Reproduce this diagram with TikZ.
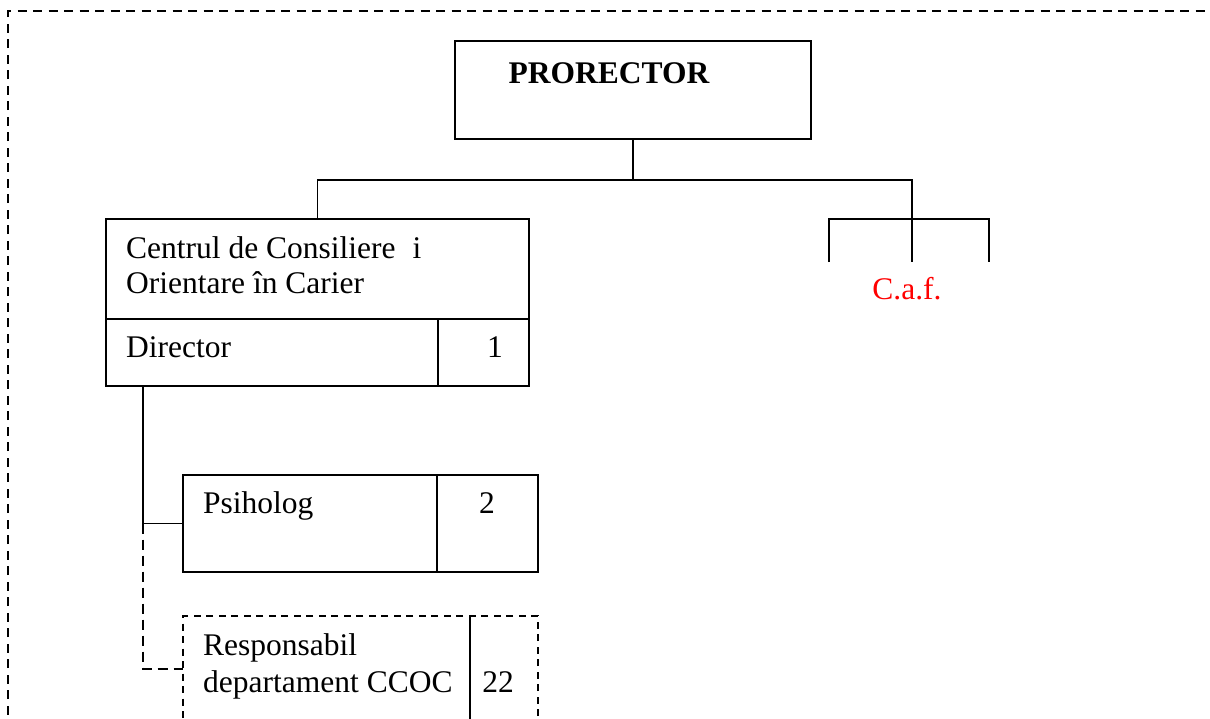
\documentclass[tikz,border=0pt]{standalone}
\usepackage{fontspec}
\setmainfont{Liberation Serif}
\usetikzlibrary{positioning}

\begin{document}
\begin{tikzpicture}[x=1pt,y=-1pt,
		box/.style={draw,line width=1.6pt,rectangle,inner sep=0pt,outer sep=0pt,anchor=north west},
		conn/.style={line width=1.6pt},
		txt/.style={inner sep=0pt,anchor=base west,font=\fontsize{31.5}{36}\selectfont},
		num/.style={inner sep=0pt,anchor=base,font=\fontsize{31.5}{36}\selectfont}]
		\useasboundingbox (0,0) rectangle (1210,718);
		\clip (0,0) rectangle (1210,718);
		\draw[line width=1.6pt,dash pattern=on 9pt off 6.5pt] (8,730) -- (8,11) -- (1220,11);

		\node[box,minimum width=356pt,minimum height=98pt] (prorector) at (455,41) {};
		\node[num,font=\fontsize{31.5}{36}\selectfont\bfseries] (prorectortxt) at (609,83) {PRORECTOR};

		\node[box,minimum width=423pt,minimum height=167pt] (centrul) at (106,219) {};
		\draw[conn] (106,319) -- (529,319);
		\draw[conn] (438,319) -- (438,386);
		\node[txt] (centrul1) at (126,258) {Centrul de Consiliere\hspace{17pt}i};
		\node[txt] (centrul2) at (126,293) {Orientare în Carier};
		\node[txt] (director) at (126,357) {Director};
		\node[num] (directornr) at (495,357) {1};

		\node[box,minimum width=355pt,minimum height=97pt] (psiholog) at (183,475) {};
		\draw[conn] (437,475) -- (437,572);
		\node[txt] (psihologtxt) at (203,513) {Psiholog};
		\node[num] (psihologn) at (487,513) {2};

		\node[box,dash pattern=on 7pt off 5.5pt,minimum width=355pt,minimum height=120pt] (resp) at (183,616) {};
		\draw[conn] (470,616) -- (470,730);
		\node[txt] (resp1) at (203,655) {Responsabil};
		\node[txt] (resp2) at (203,692) {departament CCOC};
		\node[num] (respn) at (498,692) {22};

		\coordinate (split) at (prorector.south |- 0,180);
		\coordinate (cafmid) at (912,262);
		\coordinate (cafleft) at (829,262);
		\coordinate (cafright) at (989,262);
		\draw[conn] (prorector.south) -- (split);
		\draw[conn] (split) -| (centrul.north);
		\draw[conn] (split) -| (cafmid);
		\draw[conn] (cafleft) -- (829,219) -- (989,219) -- (cafright);
		\node[num,text=red] (caf) at (907,299) {C.a.f.};

		\coordinate (branch) at (psiholog.west -| 143,0);
		\coordinate (respjoin) at (183,669);
		\draw[conn] (centrul.south west -| branch) -- (branch) -- (psiholog.west);
		\draw[conn,dash pattern=on 10pt off 6pt] (branch) |- (respjoin);
		\end{tikzpicture}
\end{document}
